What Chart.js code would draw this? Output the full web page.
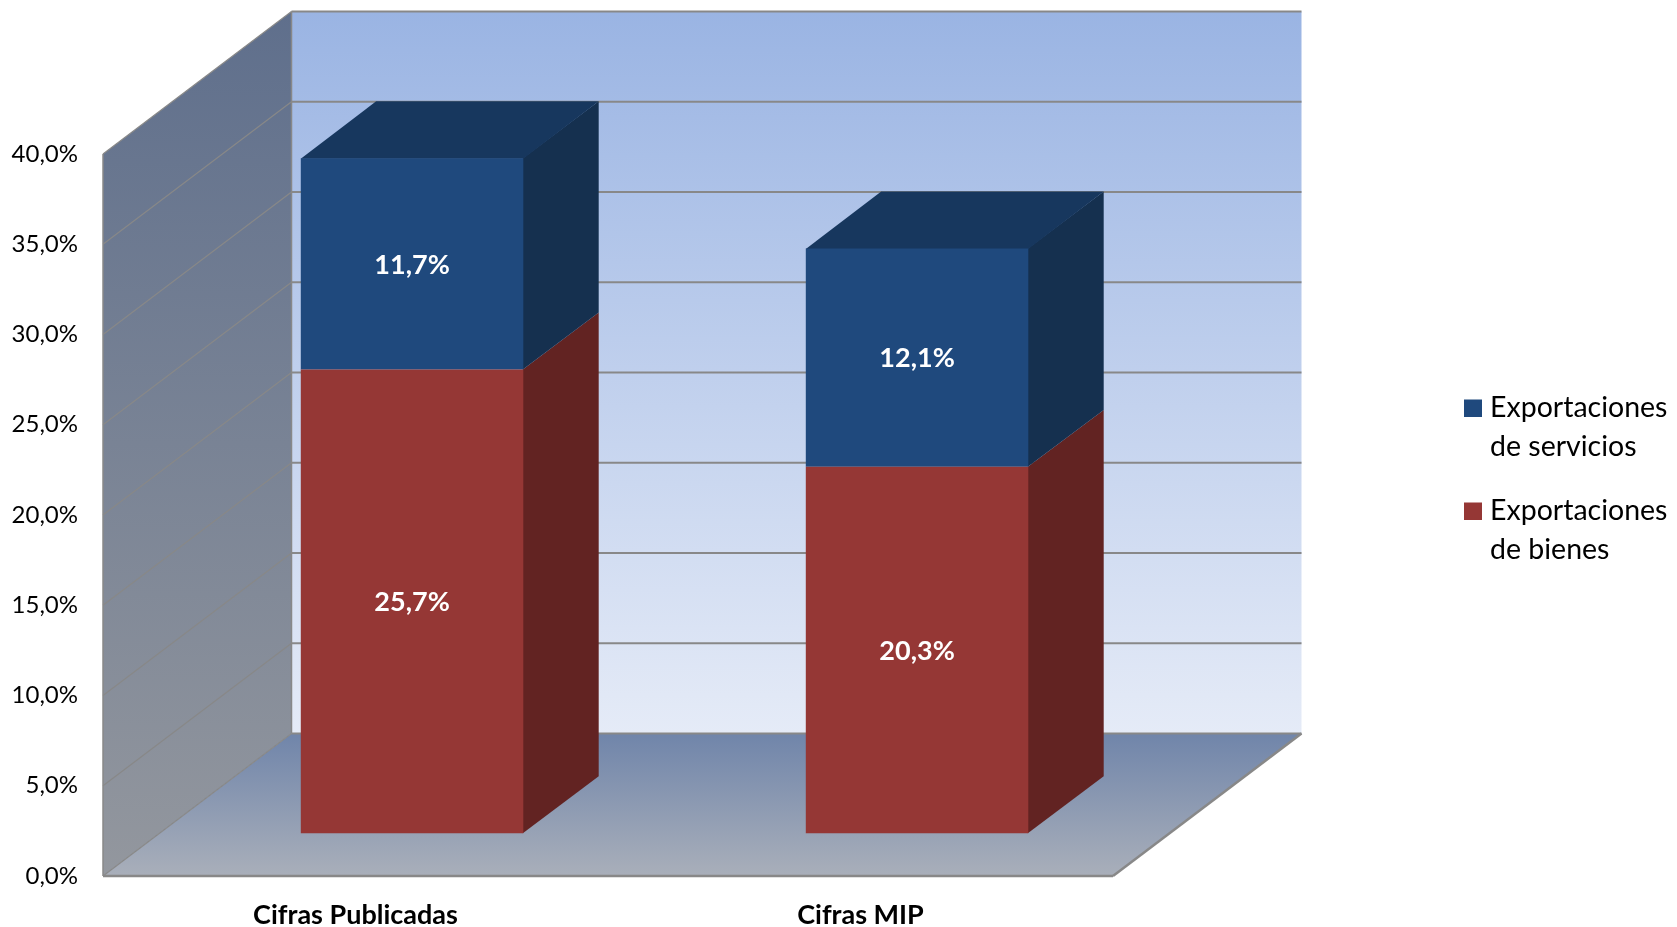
<!DOCTYPE html>
<html><head><meta charset="utf-8">
<script src="https://cdn.jsdelivr.net/npm/chart.js@4.4.0/dist/chart.umd.min.js"></script>
<style>html,body{margin:0;padding:0;background:#fff}#wrap{width:1677px;height:927px}</style>
</head><body><div id="wrap"><canvas id="c" width="1677" height="927"></canvas></div>
<script>
// ---- data ----
const categories = ['Cifras Publicadas', 'Cifras MIP'];
const seriesNames = ['Exportaciones de bienes', 'Exportaciones de servicios'];
const bienes = [25.7, 20.3];
const servicios = [11.7, 12.1];
const yTicks = [0, 5, 10, 15, 20, 25, 30, 35, 40];
const legendLines = [['Exportaciones', 'de bienes'], ['Exportaciones', 'de servicios']];

// ---- style ----
const FRONT = ['#953735', '#1F497D'];
const SIDE = ['#622322', '#15304F'];
const TOP = ['#6E2A29', '#17375E'];
const DX = 188.5, DY = -142.4;          // depth of the 3D box
const BAR_FRONT = 0.3, BAR_DEPTH = 0.4; // bar position inside the depth
const FONT = 'Lato';
const fmt = v => v.toFixed(1).replace('.', ',') + '%';

function poly(ctx, pts, fill) {
  ctx.beginPath();
  ctx.moveTo(pts[0][0], pts[0][1]);
  for (let i = 1; i < pts.length; i++) ctx.lineTo(pts[i][0], pts[i][1]);
  ctx.closePath();
  ctx.fillStyle = fill;
  ctx.fill();
}
function line(ctx, x1, y1, x2, y2) {
  ctx.beginPath(); ctx.moveTo(x1, y1); ctx.lineTo(x2, y2); ctx.stroke();
}

const threeD = {
  id: 'threeD',
  beforeDatasetsDraw(chart) {
    const {ctx, chartArea: a, scales: {y}} = chart;
    const L = a.left, R = a.right, T = a.top, B = a.bottom;
    ctx.save();
    // back wall
    let g = ctx.createLinearGradient(0, T + DY, 0, B + DY);
    g.addColorStop(0, '#9AB4E3'); g.addColorStop(1, '#E5EBF7');
    ctx.fillStyle = g; ctx.fillRect(L + DX, T + DY, R - L, B - T);
    // side wall
    g = ctx.createLinearGradient(0, T + DY, 0, B);
    g.addColorStop(0, '#5F6F8C'); g.addColorStop(1, '#93979E');
    poly(ctx, [[L, T], [L + DX, T + DY], [L + DX, B + DY], [L, B]], g);
    // floor
    g = ctx.createLinearGradient(0, B + DY, 0, B);
    g.addColorStop(0, '#7085AA'); g.addColorStop(1, '#A9AFBA');
    poly(ctx, [[L, B], [L + DX, B + DY], [R + DX, B + DY], [R, B]], g);
    // gridlines
    ctx.strokeStyle = '#888888';
    yTicks.forEach(v => {
      const py = y.getPixelForValue(v);
      ctx.lineWidth = 2;
      line(ctx, L + DX, py + DY, R + DX, py + DY);
      ctx.lineWidth = 1.2;
      line(ctx, L, py, L + DX, py + DY);
    });
    ctx.lineWidth = 1.5;
    line(ctx, L + DX, T + DY, L + DX, B + DY);
    line(ctx, L, T, L, B);
    ctx.lineWidth = 2.5;
    line(ctx, L, B, R, B);
    line(ctx, R, B, R + DX, B + DY);
    // bar sides and tops
    const ox = DX * BAR_FRONT, oy = DY * BAR_FRONT, bx = DX * BAR_DEPTH, by = DY * BAR_DEPTH;
    const last = chart.data.datasets.length - 1;
    chart.data.datasets.forEach((ds, di) => {
      chart.getDatasetMeta(di).data.forEach(el => {
        const p = el.getProps(['x', 'y', 'base', 'width'], true);
        const x0 = p.x - p.width / 2 + ox, x1 = p.x + p.width / 2 + ox;
        const t = p.y + oy, b = p.base + oy;
        poly(ctx, [[x1 - 0.5, t], [x1 + bx, t + by], [x1 + bx, b + by], [x1 - 0.5, b]], SIDE[di]);
        if (di === last) poly(ctx, [[x0, t + 0.5], [x0 + bx, t + by], [x1 + bx, t + by], [x1, t + 0.5]], TOP[di]);
      });
    });
    ctx.restore();
    ctx.save();
    ctx.translate(ox, oy);
  },
  afterDatasetsDraw(chart) {
    const ctx = chart.ctx;
    ctx.fillStyle = '#FFFFFF';
    ctx.font = 'bold 27px ' + FONT;
    ctx.textAlign = 'center';
    ctx.textBaseline = 'middle';
    chart.data.datasets.forEach((ds, di) => {
      chart.getDatasetMeta(di).data.forEach((el, i) => {
        const p = el.getProps(['x', 'y', 'base'], true);
        ctx.fillText(fmt(ds.data[i]), p.x, (p.y + p.base) / 2 + 1);
      });
    });
    ctx.restore();
  },
  afterDraw(chart) {
    const ctx = chart.ctx;
    ctx.save();
    ctx.font = '28.5px ' + FONT;
    ctx.textAlign = 'left';
    ctx.textBaseline = 'alphabetic';
    const order = chart.data.datasets.map((d, i) => i).reverse();
    order.forEach((di, k) => {
      const base = 417 + k * 103;
      ctx.fillStyle = FRONT[di];
      ctx.fillRect(1464, base - 17.5, 18, 17.5);
      ctx.fillStyle = '#000';
      legendLines[di].forEach((txt, j) => ctx.fillText(txt, 1490, base + j * 39));
    });
    ctx.restore();
  }
};

new Chart(document.getElementById('c'), {
  type: 'bar',
  data: {
    labels: categories,
    datasets: [
      {label: seriesNames[0], data: bienes, backgroundColor: FRONT[0]},
      {label: seriesNames[1], data: servicios, backgroundColor: FRONT[1]}
    ]
  },
  options: {
    responsive: false,
    animation: false,
    devicePixelRatio: 1,
    layout: {padding: {top: 154, right: 564, left: 0, bottom: 0}},
    datasets: {bar: {categoryPercentage: 1, barPercentage: 0.4406, borderWidth: 0, clip: false}},
    plugins: {legend: {display: false}, tooltip: {enabled: false}},
    scales: {
      x: {
        stacked: true, offset: true,
        grid: {display: false, drawTicks: false}, border: {display: false},
        ticks: {font: {family: FONT, size: 27, weight: 'bold'}, color: '#000', padding: 23, maxRotation: 0},
        afterFit(s) { s.height = 51; }
      },
      y: {
        stacked: true, min: 0, max: 40,
        grid: {display: false, drawTicks: false}, border: {display: false},
        ticks: {font: {family: FONT, size: 24}, color: '#000', padding: 25, callback: v => fmt(v)},
        afterBuildTicks(s) { s.ticks = yTicks.map(v => ({value: v})); },
        afterFit(s) { s.width = 103; }
      }
    }
  },
  plugins: [threeD]
});
</script>
</body></html>
